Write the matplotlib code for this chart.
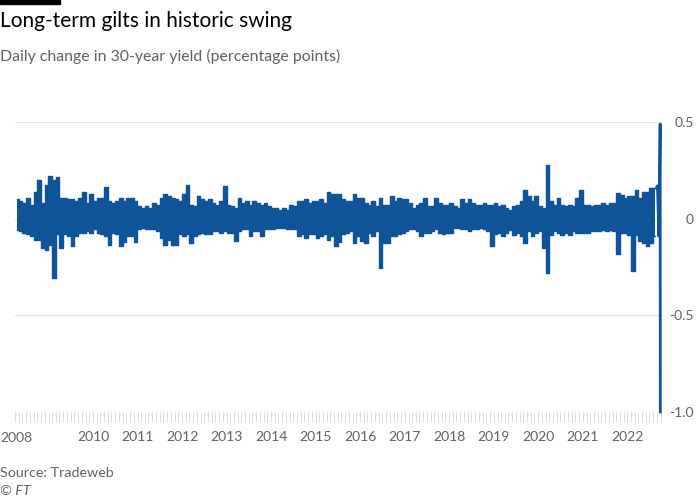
import numpy as np
import pandas as pd
import matplotlib.pyplot as plt
import matplotlib.dates as mdates
from matplotlib.patches import Rectangle
from matplotlib.ticker import FuncFormatter

plt.rcParams.update({
    "font.family": ["Lato", "DejaVu Sans"],
    "font.size": 10,
})

# -----------------------------------------------------------------------------
# Data: daily change in 30-year gilt yield, read off the chart as the
# highest and lowest daily move in each month (Apr 2008 - Aug 2022)
# -----------------------------------------------------------------------------
first_month = "2008-04-01"

monthly_high = [
    # 2008 (Apr-Dec)
    0.10, 0.09, 0.08, 0.105, 0.07, 0.14, 0.20, 0.08, 0.175,
    # 2009
    0.22, 0.20, 0.218, 0.105, 0.105, 0.10, 0.10, 0.09, 0.105, 0.14, 0.08, 0.125,
    # 2010
    0.09, 0.105, 0.105, 0.165, 0.09, 0.08, 0.09, 0.105, 0.09, 0.105, 0.105, 0.09,
    # 2011
    0.065, 0.055, 0.065, 0.055, 0.08, 0.07, 0.105, 0.125, 0.115, 0.105, 0.10, 0.09,
    # 2012
    0.13, 0.175, 0.07, 0.065, 0.115, 0.10, 0.09, 0.10, 0.08, 0.07, 0.09, 0.167,
    # 2013
    0.07, 0.065, 0.055, 0.105, 0.08, 0.09, 0.07, 0.09, 0.08, 0.07, 0.08, 0.065,
    # 2014
    0.055, 0.055, 0.045, 0.055, 0.045, 0.07, 0.065, 0.09, 0.09, 0.10, 0.08, 0.09,
    # 2015
    0.09, 0.10, 0.08, 0.14, 0.125, 0.13, 0.13, 0.10, 0.09, 0.09, 0.125, 0.105,
    # 2016
    0.105, 0.08, 0.07, 0.09, 0.065, 0.105, 0.07, 0.07, 0.115, 0.09, 0.105, 0.10,
    # 2017
    0.10, 0.08, 0.055, 0.07, 0.08, 0.105, 0.065, 0.065, 0.105, 0.08, 0.07, 0.07,
    # 2018
    0.08, 0.065, 0.055, 0.10, 0.08, 0.10, 0.08, 0.07, 0.07, 0.08, 0.07, 0.07,
    # 2019
    0.08, 0.065, 0.072, 0.055, 0.046, 0.064, 0.072, 0.09, 0.15, 0.115, 0.09, 0.115,
    # 2020
    0.064, 0.055, 0.278, 0.09, 0.072, 0.107, 0.072, 0.064, 0.072, 0.064, 0.107, 0.15,
    # 2021
    0.072, 0.072, 0.064, 0.072, 0.072, 0.08, 0.072, 0.08, 0.08, 0.132, 0.124, 0.107,
    # 2022 (Jan-Aug)
    0.115, 0.115, 0.15, 0.107, 0.14, 0.14, 0.158, 0.158,
]

monthly_low = [
    # 2008 (Apr-Dec)
    -0.06, -0.065, -0.075, -0.08, -0.09, -0.11, -0.11, -0.15, -0.16,
    # 2009
    -0.135, -0.305, -0.08, -0.15, -0.08, -0.09, -0.14, -0.09, -0.075, -0.075, -0.065, -0.075,
    # 2010
    -0.055, -0.075, -0.08, -0.09, -0.135, -0.075, -0.08, -0.14, -0.12, -0.09, -0.09, -0.12,
    # 2011
    -0.055, -0.05, -0.055, -0.055, -0.055, -0.065, -0.10, -0.135, -0.11, -0.135, -0.135, -0.08,
    # 2012
    -0.09, -0.08, -0.125, -0.09, -0.08, -0.075, -0.08, -0.08, -0.065, -0.065, -0.075, -0.065,
    # 2013
    -0.075, -0.075, -0.117, -0.065, -0.055, -0.055, -0.09, -0.065, -0.065, -0.09, -0.055, -0.055,
    # 2014
    -0.055, -0.05, -0.05, -0.05, -0.055, -0.055, -0.055, -0.09, -0.08, -0.10, -0.08, -0.08,
    # 2015
    -0.10, -0.09, -0.08, -0.11, -0.09, -0.14, -0.12, -0.08, -0.075, -0.065, -0.125, -0.09,
    # 2016
    -0.117, -0.125, -0.075, -0.09, -0.065, -0.254, -0.125, -0.125, -0.09, -0.09, -0.08, -0.075,
    # 2017
    -0.065, -0.055, -0.055, -0.065, -0.09, -0.075, -0.075, -0.065, -0.055, -0.075, -0.08, -0.075,
    # 2018
    -0.075, -0.05, -0.05, -0.055, -0.055, -0.065, -0.055, -0.055, -0.05, -0.055, -0.065, -0.14,
    # 2019
    -0.08, -0.075, -0.09, -0.075, -0.057, -0.082, -0.074, -0.09, -0.125, -0.065, -0.09, -0.074,
    # 2020
    -0.065, -0.15, -0.28, -0.082, -0.065, -0.074, -0.082, -0.074, -0.082, -0.065, -0.074, -0.074,
    # 2021
    -0.074, -0.074, -0.065, -0.065, -0.065, -0.057, -0.065, -0.057, -0.065, -0.185, -0.074, -0.074,
    # 2022 (Jan-Aug)
    -0.082, -0.27, -0.082, -0.117, -0.125, -0.14, -0.125, -0.09,
]

# September 2022: the mini-budget sell-off and the BoE intervention
final_dates = ["2022-09-05", "2022-09-16", "2022-09-27", "2022-09-28"]
final_values = [0.17, -0.09, 0.49, -1.0]

ytick_values = [0.5, 0, -0.5, -1.0]
ytick_labels = ["0.5", "0", "-0.5", "-1.0"]

title = "Long-term gilts in historic swing"
subtitle = "Daily change in 30-year yield (percentage points)"
source = "Source: Tradeweb"

# -----------------------------------------------------------------------------
# Build the series
# -----------------------------------------------------------------------------
months = pd.date_range(first_month, periods=len(monthly_high), freq="MS")
assert len(monthly_low) == len(months)
mid_month = months + pd.Timedelta(days=15)

# -----------------------------------------------------------------------------
# Plot
# -----------------------------------------------------------------------------
blue = "#0f5499"
grid = "#e9e2da"
grey = "#66605c"

fig = plt.figure(figsize=(7, 5), dpi=100)
fig.patch.set_facecolor("white")
ax = fig.add_axes([15 / 700, 1 - 412 / 500, 647 / 700, 290 / 500])

# monthly range of daily moves as a solid band
ax.fill_between(mid_month, monthly_low, monthly_high, step="mid",
                color=blue, lw=0, zorder=3)
ax.step(mid_month, monthly_high, where="mid", color=blue, lw=1.0, zorder=3)
ax.step(mid_month, monthly_low, where="mid", color=blue, lw=1.0, zorder=3)

# final days of the series drawn as a line
end_x = [mid_month[-1] + pd.Timedelta(days=10)] + list(pd.to_datetime(final_dates))
end_y = [monthly_high[-1]] + final_values
ax.plot(end_x, end_y, color=blue, lw=2.0, clip_on=False, zorder=3,
        solid_joinstyle="round")

ax.set_xlim(pd.Timestamp("2008-04-01"), pd.Timestamp("2022-10-12"))
ax.set_ylim(-1.0, 0.5)

# y axis on the right, gridlines only
ax.set_yticks(ytick_values, ytick_labels)
ax.yaxis.tick_right()
ax.tick_params(axis="y", length=0, pad=23, labelsize=10, labelcolor=grey)
for lab in ax.get_yticklabels():
    lab.set_horizontalalignment("right")
ax.grid(axis="y", color=grid, lw=0.9, zorder=0)

# x axis: monthly ticks, year labels
ax.xaxis.set_major_locator(mdates.YearLocator())
ax.xaxis.set_minor_locator(mdates.MonthLocator())
ax.xaxis.set_major_formatter(
    FuncFormatter(lambda v, pos: "" if mdates.num2date(v).year == 2009
                  else str(mdates.num2date(v).year)))
ax.tick_params(axis="x", which="both", length=7, width=0.6, color="#ddd5cd",
               labelsize=10, labelcolor=grey, pad=7)

for side in ["top", "right", "left", "bottom"]:
    ax.spines[side].set_visible(False)

# 2008 sits at the very left edge of the chart
fig.text(0, 1 - 438 / 500, "2008", ha="left", va="center", fontsize=10, color=grey)

# header / footer
fig.patches.append(Rectangle((0, 1 - 4 / 500), 60 / 700, 4 / 500,
                             transform=fig.transFigure, color="black"))
fig.text(0, 1 - 21 / 500, title, ha="left", va="center", fontsize=15, color="black")
fig.text(0, 1 - 56 / 500, subtitle, ha="left", va="center", fontsize=11.4, color=grey)
fig.text(0, 1 - 473 / 500, source, ha="left", va="center", fontsize=10.3, color=grey)
fig.text(0, 1 - 491 / 500, "© FT", ha="left", va="center", fontsize=10.3,
         color=grey, style="italic")

fig.savefig("out.png", dpi=100)
plt.close(fig)
